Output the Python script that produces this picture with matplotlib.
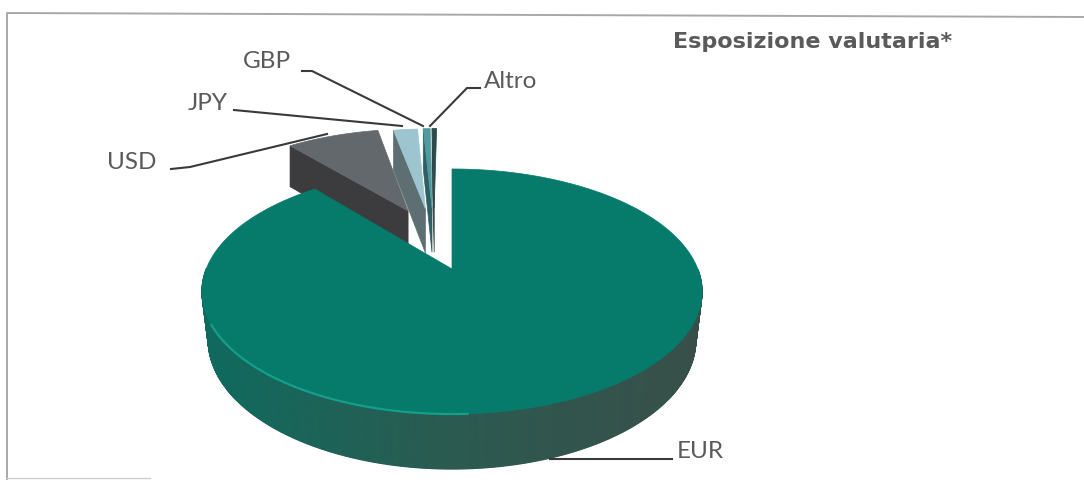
import numpy as np
import matplotlib
matplotlib.use('Agg')
import matplotlib.pyplot as plt
from matplotlib.patches import Polygon

labels = ['EUR', 'USD', 'JPY', 'GBP', 'Altro']
shares = [89.0, 7.9, 2.1, 0.6, 0.4]

top_colors = ['#067a6b', '#63686c', '#9cc5d0', '#4f9a9e', '#2b4a4c']
wall_colors = ['#1d5f52', '#3c3c3e', '#5e6f73', '#2f5f63', '#333c3e']
explode_dir = [0, -20, -12, -9, -8]
explode = [0, 0.574, 0.574, 0.574, 0.574]
radius = [1.0, 0.97, 0.95, 0.95, 0.95]

# perspective of the pie plane, unit disc to pixels
cx, cy = 452, 270
a, b, c = 0.1837, 118.4, 245.8


def project(u, v):
    return cx + c * u / (1 + a * v), cy - b * v / (1 + a * v)


def depth(y):
    return 40 + (y - 130) * 15 / 285


fig = plt.figure(figsize=(10.84, 4.81), dpi=100)
ax = fig.add_axes([0, 0, 1, 1])
ax.set_xlim(0, 1084)
ax.set_ylim(481, 0)
ax.axis('off')

# frame, the scan is a bit skewed
ax.plot([7, 7, 1084], [480, 14, 18], color='#a8a8a8', lw=1.4)
ax.plot([7, 150], [479, 479], color='#d0d0d0', lw=1.0)

# cumulative angles, clockwise from the top
ends = np.cumsum(shares) / np.sum(shares) * 360
starts = ends - np.array(shares) / np.sum(shares) * 360


def rim_color(f):
    left = np.array([0x0f, 0x6a, 0x5e])
    mid = np.array([0x2b, 0x5a, 0x50])
    right = np.array([0x38, 0x4f, 0x49])
    if f < 0.5:
        return (left + (mid - left) * f * 2) / 255
    return (mid + (right - mid) * (f - 0.5) * 2) / 255


def draw_slice(i, z):
    t0, t1 = starts[i], ends[i]
    d = np.radians(explode_dir[i])
    ou, ov = explode[i] * np.sin(d), explode[i] * np.cos(d)
    th = np.radians(np.linspace(t0, t1, max(int(t1 - t0) * 2, 8)))
    x, y = project(ou + radius[i] * np.sin(th), ov + radius[i] * np.cos(th))
    ax0, ay0 = project(ou, ov)
    if i == 0:
        # rim, the far edge sits a little narrower than the top face
        xb = cx + (x - cx) * 0.975
        yb = y + depth(y)
        for k in range(len(x) - 1):
            if y[k] < 270:
                continue
            col = rim_color((x[k] - 202) / 500)
            ax.add_patch(Polygon([(x[k], y[k]), (x[k + 1], y[k + 1]), (xb[k + 1], yb[k + 1]), (xb[k], yb[k])],
                                 closed=True, fc=col, ec=col, lw=0.8, zorder=z))
    else:
        # left radial wall, it is the one facing the viewer
        ax.add_patch(Polygon([(x[0], y[0]), (ax0, ay0), (ax0, ay0 + depth(ay0)), (x[0], y[0] + depth(y[0]))],
                             closed=True, fc=wall_colors[i], ec=wall_colors[i], lw=0.5, zorder=z))
    ax.add_patch(Polygon(np.r_[[[ax0, ay0]], np.c_[x, y]], closed=True,
                         fc=top_colors[i], ec=top_colors[i], lw=0.5, zorder=z + 0.1))
    if i == 0:
        mask = (y > 325) & (x < 470)
        ax.plot(x[mask], y[mask], color='#12a08a', lw=1.6, zorder=z + 0.2)


for i, z in zip([4, 3, 2, 1, 0], [2, 3, 4, 5, 6]):
    draw_slice(i, z)

# leader lines
line_col = '#3a3a3a'
ax.plot([302, 312, 423], [72, 72, 127], color=line_col, lw=1.5, zorder=8)
ax.plot([480, 467, 430], [89, 89, 127], color=line_col, lw=1.5, zorder=8)
ax.plot([234, 402], [111, 127], color=line_col, lw=1.5, zorder=8)
ax.plot([171, 190, 327], [170, 168, 135], color=line_col, lw=1.5, zorder=8)
ax.plot([550, 672], [460, 460], color=line_col, lw=1.5, zorder=8)

font = 'Lato'
txt = '#5a5a5a'
ax.text(243, 62, 'GBP', fontsize=17.5, family=font, color=txt, va='center', zorder=9)
ax.text(484, 82, 'Altro', fontsize=17.5, family=font, color=txt, va='center', zorder=9)
ax.text(188, 103, 'JPY', fontsize=17.5, family=font, color=txt, va='center', zorder=9)
ax.text(107, 163, 'USD', fontsize=17.5, family=font, color=txt, va='center', zorder=9)
ax.text(677, 452, 'EUR', fontsize=17.5, family=font, color=txt, va='center', zorder=9)
ax.text(673, 48, 'Esposizione valutaria*', fontsize=16, family='DejaVu Sans', fontweight='bold',
        color='#5a5a5a', va='baseline', zorder=9)

fig.savefig('out.png', dpi=100, facecolor='white')
